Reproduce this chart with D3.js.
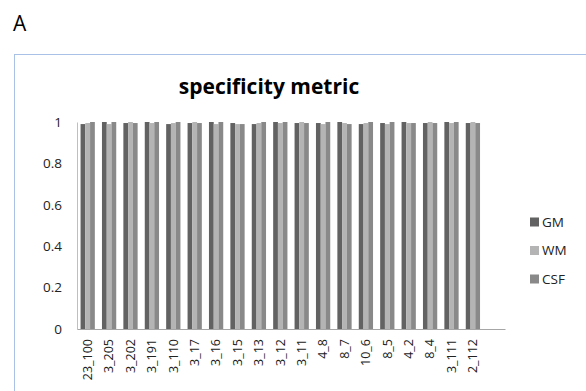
<!DOCTYPE html>
<html><head><meta charset="utf-8">
<script src="https://cdn.jsdelivr.net/npm/d3@7"></script>
<style>body{margin:0;background:#fff}svg{display:block}text{font-family:"Open Sans","Noto Sans",sans-serif}</style>
</head><body><svg id="c" width="586" height="391"></svg>
<script>
const categories = ["23_100","3_205","3_202","3_191","3_110","3_17","3_16","3_15","3_13","3_12","3_11","4_8","8_7","10_6","8_5","4_2","8_4","3_111","2_112",""];
const seriesNames = ["GM","WM","CSF"];
const gm  = [0.990,1.000,0.995,1.000,0.990,0.995,1.000,0.995,0.990,1.000,0.995,0.995,1.000,0.990,0.995,1.000,0.995,1.000,0.995,null];
const wm  = [0.995,0.990,1.000,0.995,0.995,1.000,0.990,0.990,0.995,0.995,1.000,0.990,0.995,0.995,0.990,0.995,1.000,0.995,1.000,null];
const csf = [1.000,1.000,0.995,1.000,1.000,0.995,1.000,0.990,1.000,1.000,0.995,1.000,0.990,1.000,1.000,0.995,0.995,1.000,0.995,null];
const yTicks = [0,0.2,0.4,0.6,0.8,1];
const colors = ["#626262","#b4b4b4","#898989"];
const series = [gm, wm, csf];

const svg = d3.select("#c");
svg.append("text").attr("x",13).attr("y",31).attr("font-size",21).attr("fill","#000").text("A");
svg.append("rect").attr("x",14.5).attr("y",54.5).attr("width",600).attr("height",400)
  .attr("fill","none").attr("stroke","#a9c1e6").attr("stroke-width",1);
svg.append("text").attr("x",269).attr("y",94).attr("text-anchor","middle")
  .attr("font-size",21).attr("font-weight","bold").attr("fill","#000").text("specificity metric");

const x0 = d3.scaleBand().domain(categories.map((c,i)=>i)).range([77,505]).paddingInner(0).paddingOuter(0);
const bw = x0.bandwidth()/4.5;
const x1 = d3.scaleBand().domain([0,1,2]).range([0.75*bw, 3.75*bw]).padding(0);
const y = d3.scaleLinear().domain([0,1]).range([329,122]);

const g = svg.append("g");
series.forEach((s,si)=>{
  g.selectAll(".b"+si).data(s.map((v,i)=>({v,i})).filter(d=>d.v!=null)).enter().append("rect")
    .attr("x",d=>x0(d.i)+x1(si)).attr("width",x1.bandwidth())
    .attr("y",d=>y(d.v)).attr("height",d=>y(0)-y(d.v)).attr("fill",colors[si]);
});

// axes
const yAxis = d3.axisLeft(y).tickValues(yTicks).tickSize(0).tickPadding(15).tickFormat(d3.format("~g"));
const ya = svg.append("g").attr("transform","translate(77,0)").call(yAxis);
ya.select(".domain").attr("stroke","#bfbfbf");
ya.selectAll("text").attr("font-size",13.5).attr("fill","#222").attr("font-family","Open Sans");

const xAxis = d3.axisBottom(x0).tickSize(0).tickFormat(i=>categories[i]);
const xa = svg.append("g").attr("transform","translate(0,329)").call(xAxis);
xa.select(".domain").attr("stroke","#a6a6a6");
xa.selectAll("text").attr("font-size",12.5).attr("fill","#222").attr("font-family","Open Sans")
  .attr("transform","rotate(-90)").attr("text-anchor","end").attr("dy","0.35em").attr("x",-10).attr("y",0);

// legend
const lg = svg.append("g");
seriesNames.forEach((n,i)=>{
  const cy = 222 + i*28.5;
  lg.append("rect").attr("x",530).attr("y",cy-4.5).attr("width",9).attr("height",9).attr("fill",colors[i]);
  lg.append("text").attr("x",542).attr("y",cy).attr("dy","0.35em").attr("font-size",13.5).attr("fill","#222").text(n);
});
</script></body></html>
